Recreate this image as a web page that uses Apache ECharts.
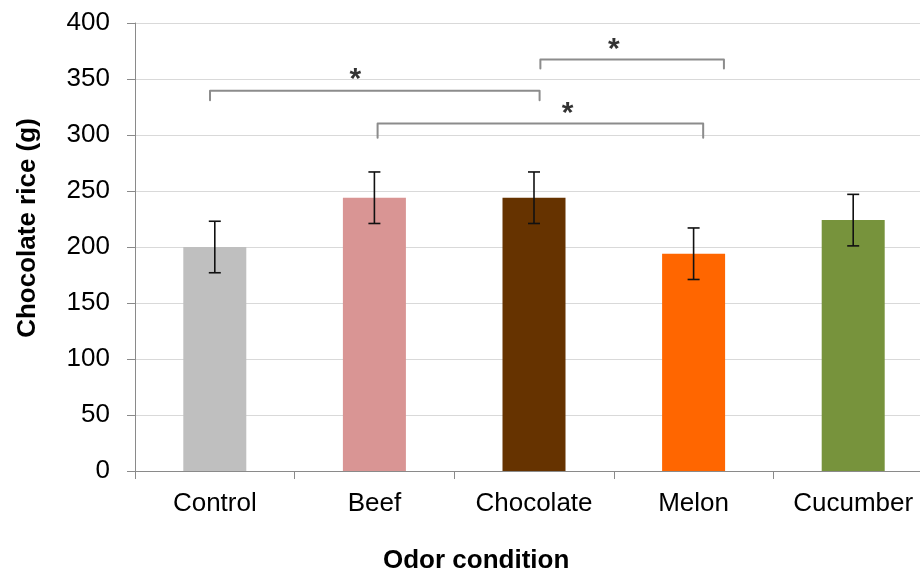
<!DOCTYPE html>
<html>
<head>
<meta charset="utf-8">
<script src="https://cdn.jsdelivr.net/npm/echarts@6/dist/echarts.min.js"></script>
<style>
  html, body { margin: 0; padding: 0; background: #ffffff; overflow: hidden; }
  /* the plot runs slightly past the right edge of the window */
  #wrap { width: 920px; height: 575px; overflow: hidden; }
  #chart { width: 933px; height: 575px; }
</style>
</head>
<body>
<div id="wrap"><div id="chart"></div></div>
<script>
// Odor conditions and mean chocolate rice intake (g), with error bar half-widths
const categories = ['Control', 'Beef', 'Chocolate', 'Melon', 'Cucumber'];
const intake = [200, 244, 244, 194, 224];
const errors = [23, 23, 23, 23, 23];
const barColors = ['#bfbfbf', '#d99594', '#663300', '#ff6600', '#77933c'];

// Y axis scale
const yMin = 0;
const yMax = 400;
const yStep = 50;

// Significance brackets: [start, end, bracket height, foot height] in category units
const brackets = [
  [-0.03, 2.035, 339.5, 331],
  [1.02, 3.06, 310.3, 297.6],
  [2.04, 3.19, 367.4, 359.4]
];
// Significance markers: [x in category units, y value]
const stars = [
  [0.88, 353.5],
  [2.21, 323.1],
  [2.50, 380.3]
];

const FONT = '"Liberation Sans", Arial, sans-serif';
const chart = echarts.init(document.getElementById('chart'), null, { renderer: 'canvas' });

const bracketSeries = brackets.map(function (b) {
  return {
    type: 'line',
    xAxisIndex: 1,
    yAxisIndex: 0,
    symbol: 'none',
    silent: true,
    z: 4,
    lineStyle: { color: '#8c8c8c', width: 2, join: 'round', cap: 'round' },
    data: [[b[0], b[3]], [b[0], b[2]], [b[1], b[2]], [b[1], b[3]]]
  };
});

chart.setOption({
  animation: false,
  backgroundColor: '#ffffff',
  grid: { left: 135, top: 23, right: 0, bottom: 104, containLabel: false },
  xAxis: [
    {
      type: 'category',
      data: categories,
      axisLine: { show: true, onZero: false, lineStyle: { color: '#8a8a8a', width: 1 } },
      axisTick: { show: true, length: 8, lineStyle: { color: '#8a8a8a' } },
      axisLabel: { color: '#000000', fontFamily: FONT, fontSize: 26, margin: 20 },
      splitLine: { show: false }
    },
    {
      type: 'value',
      min: -0.5,
      max: 4.5,
      show: false
    }
  ],
  yAxis: {
    type: 'value',
    min: yMin,
    max: yMax,
    interval: yStep,
    axisLine: { show: true, onZero: false, lineStyle: { color: '#8a8a8a', width: 1 } },
    axisTick: { show: true, length: 8, lineStyle: { color: '#8a8a8a' } },
    axisLabel: { color: '#000000', fontFamily: FONT, fontSize: 26, margin: 25 },
    splitLine: { show: true, lineStyle: { color: '#d9d9d9', width: 1 } }
  },
  graphic: [
    {
      type: 'text',
      left: 383,
      top: 548,
      style: { text: 'Odor condition', fontFamily: FONT, fontSize: 26, fontWeight: 'bold', fill: '#000000' }
    },
    {
      type: 'text',
      x: 28,
      y: 228,
      rotation: Math.PI / 2,
      style: {
        text: 'Chocolate rice (g)', fontFamily: FONT, fontSize: 26, fontWeight: 'bold',
        fill: '#000000', align: 'center', verticalAlign: 'middle'
      }
    }
  ],
  series: [
    {
      type: 'bar',
      barWidth: 63,
      data: intake.map(function (v, i) {
        return { value: v, itemStyle: { color: barColors[i] } };
      }),
      z: 2
    },
    {
      type: 'custom',
      z: 3,
      data: intake.map(function (v, i) { return [i, v - errors[i], v + errors[i]]; }),
      renderItem: function (params, api) {
        const lo = api.coord([api.value(0), api.value(1)]);
        const hi = api.coord([api.value(0), api.value(2)]);
        const half = 6;
        const style = { stroke: '#111111', lineWidth: 1.6 };
        return {
          type: 'group',
          children: [
            { type: 'line', shape: { x1: hi[0], y1: hi[1], x2: lo[0], y2: lo[1] }, style: style },
            { type: 'line', shape: { x1: hi[0] - half, y1: hi[1], x2: hi[0] + half, y2: hi[1] }, style: style },
            { type: 'line', shape: { x1: lo[0] - half, y1: lo[1], x2: lo[0] + half, y2: lo[1] }, style: style }
          ]
        };
      }
    },
    {
      type: 'scatter',
      xAxisIndex: 1,
      yAxisIndex: 0,
      symbolSize: 0,
      silent: true,
      z: 5,
      data: stars,
      label: {
        show: true,
        position: 'inside',
        formatter: '*',
        color: '#000000',
        fontFamily: FONT,
        fontSize: 30,
        fontWeight: 'bold',
        offset: [0, 5]
      }
    }
  ].concat(bracketSeries)
});
</script>
</body>
</html>
